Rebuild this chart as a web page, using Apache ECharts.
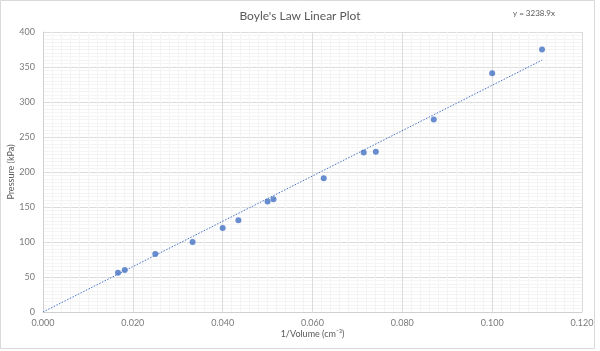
<!DOCTYPE html>
<html>
<head>
<meta charset="utf-8">
<script src="https://cdn.jsdelivr.net/npm/echarts@6/dist/echarts.min.js"></script>
<style>
  html, body { margin: 0; padding: 0; background: #fff; }
  #panel { width: 600px; height: 351px; }
</style>
</head>
<body>
<div id="panel"></div>
<script>
// measured points: 1/volume (cm^-3) and pressure (kPa)
var invVolume = [0.0167, 0.0182, 0.025, 0.0333, 0.040, 0.0435, 0.050, 0.0513, 0.0625, 0.0714, 0.0741, 0.0870, 0.100, 0.1111];
var pressure  = [56, 60, 83, 100, 120, 131, 158, 161, 191, 228, 229, 275, 341, 375];

// linear fit through origin, as printed on the chart
var slope = 3238.9;
var trendX = [0, 0.1111];

var xTicks = [0, 0.02, 0.04, 0.06, 0.08, 0.10, 0.12];
var yTicks = [0, 50, 100, 150, 200, 250, 300, 350, 400];

var font = 'Lato, "Open Sans", sans-serif';
var labelColor = '#7a7a7a';

var points = invVolume.map(function (x, i) { return [x, pressure[i]]; });
var trend = trendX.map(function (x) { return [x, slope * x]; });

var myChart = echarts.init(document.getElementById('panel'));
myChart.setOption({
    backgroundColor: '#fff',
    animation: false,
    title: {
        text: "Boyle's Law Linear Plot",
        left: 'center',
        top: 5,
        textStyle: { fontFamily: font, fontSize: 12, fontWeight: 'normal', color: '#595959' }
    },
    graphic: [
        { type: 'rect', shape: { x: 0.5, y: 0.5, width: 594, height: 348 },
          style: { fill: 'none', stroke: '#d9d9d9', lineWidth: 1 }, silent: true },
        { type: 'text', left: 513, top: 9,
          style: { text: 'y = 3238.9x', font: '8px ' + font, fill: '#595959' } }
    ],
    grid: { left: 43, right: 18, top: 32, bottom: 39, outerBoundsMode: 'none', containLabel: false },
    xAxis: {
        type: 'value',
        min: xTicks[0],
        max: xTicks[xTicks.length - 1],
        interval: 0.02,
        name: '1/Volume (cm\u207B\u00B3)',
        nameLocation: 'middle',
        nameGap: 18,
        nameMoveOverlap: false,
        nameTextStyle: { fontFamily: font, fontSize: 9, color: '#595959' },
        axisLine: { show: true, lineStyle: { color: '#d0d0d0' } },
        axisTick: { show: false },
        axisLabel: {
            fontFamily: font, fontSize: 9, color: labelColor, margin: 7,
            formatter: function (v) { return v.toFixed(3); }
        },
        splitLine: { show: true, lineStyle: { color: '#dcdcdc' } },
        minorTick: { show: false, splitNumber: 10 },
        minorSplitLine: { show: true, lineStyle: { color: '#f4f4f4' } }
    },
    yAxis: {
        type: 'value',
        min: yTicks[0],
        max: yTicks[yTicks.length - 1],
        interval: 50,
        name: 'Pressure (kPa)',
        nameLocation: 'middle',
        nameGap: 27,
        nameMoveOverlap: false,
        nameTextStyle: { fontFamily: font, fontSize: 9, color: '#595959' },
        axisLine: { show: true, lineStyle: { color: '#d0d0d0' } },
        axisTick: { show: false },
        axisLabel: { fontFamily: font, fontSize: 9, color: labelColor, margin: 8 },
        splitLine: { show: true, lineStyle: { color: '#dcdcdc' } },
        minorTick: { show: false, splitNumber: 10 },
        minorSplitLine: { show: true, lineStyle: { color: '#f4f4f4' } }
    },
    series: [
        {
            name: 'trend',
            type: 'line',
            data: trend,
            symbol: 'none',
            lineStyle: { color: '#4472c4', width: 1, type: [1.5, 1.5] },
            z: 2
        },
        {
            name: 'pressure',
            type: 'scatter',
            data: points,
            symbolSize: 6,
            itemStyle: { color: '#4472c4' },
            z: 3
        }
    ]
});
</script>
</body>
</html>
